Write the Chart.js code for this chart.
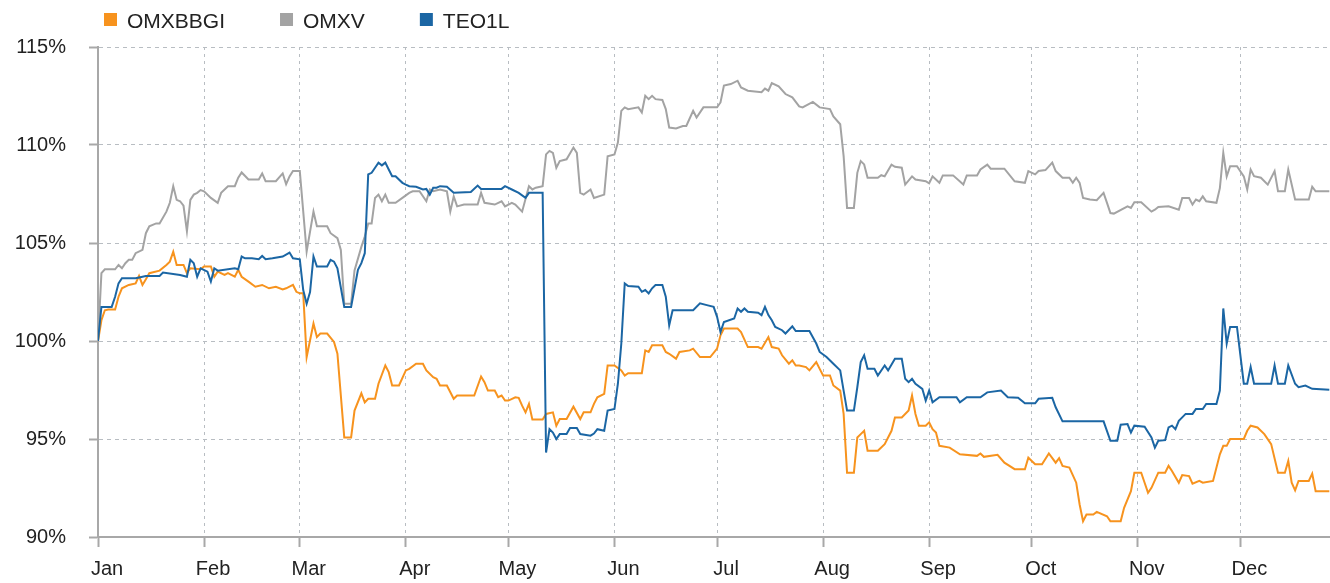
<!DOCTYPE html>
<html>
<head>
<meta charset="utf-8">
<title>OMXBBGI, OMXV, TEO1L</title>
<script src="https://cdn.jsdelivr.net/npm/chart.js@4.4.1/dist/chart.umd.min.js"></script>
<style>
  html, body { margin: 0; padding: 0; background: #fff; }
  #wrap { width: 1330px; height: 583px; position: relative; }
</style>
</head>
<body>
<div id="wrap"><canvas id="indexChart"></canvas></div>
<script>
// x values are days of the year (0 = 1 Jan), y values are % of the start level
const monthLabels = ['Jan', 'Feb', 'Mar', 'Apr', 'May', 'Jun', 'Jul', 'Aug', 'Sep', 'Oct', 'Nov', 'Dec'];
const monthStarts = [0, 31, 59, 90, 120, 151, 181, 212, 243, 273, 304, 334];
const percentTicks = [90, 95, 100, 105, 110, 115];

const omxbbgi = [
  [0,100],[1,101.06],[2,101.57],[3,101.61],[5,101.61],[6,102.26],[7,102.69],[9,102.86],[11,102.94],[12,103.32],
  [13,102.86],[14,103.15],[15,103.46],[18,103.59],[20,103.88],[21,104.05],[22,104.56],[23,103.88],[25,103.88],[26,103.46],
  [27,103.71],[30,103.66],[31,103.8],[33,103.8],[34,103.28],[35,103.54],[37,103.37],[38,103.46],[40,103.28],[41,103.63],
  [42,103.28],[44,103.03],[46,102.77],[48,102.86],[50,102.69],[52,102.77],[54,102.63],[55,102.69],[57,102.86],[58,102.51],
  [59,102.43],[60,102.43],[61,99.18],[62,100.04],[63,100.89],[64,100.2],[65,100.38],[67,100.38],[69,99.95],[70,99.35],
  [72,95.08],[74,95.08],[75,96.45],[77,97.33],[78,96.87],[79,97.05],[81,97.05],[82,97.82],[84,98.75],[85,98.41],
  [86,97.73],[88,97.73],[90,98.5],[91,98.58],[93,98.84],[95,98.84],[96,98.5],[98,98.15],[99,98.07],[100,97.73],
  [102,97.73],[104,97.05],[105,97.22],[110,97.22],[112,98.19],[113,97.9],[114,97.47],[116,97.47],[117,97.13],[118,97.22],
  [119,96.96],[120,96.96],[122,97.13],[123,97.1],[124,96.7],[125,96.36],[126,96.79],[127,95.99],[130,95.99],[131,96.28],
  [133,96.36],[134,95.68],[135,96.02],[137,96.02],[139,96.65],[141,96.02],[142,96.36],[144,96.36],[145,96.79],[146,97.13],
  [148,97.3],[149,98.75],[151,98.75],[153,98.5],[154,98.24],[155,98.36],[159,98.36],[160,99.52],[161,99.44],[162,99.78],
  [165,99.78],[166,99.44],[167,99.35],[169,99.1],[170,99.44],[173,99.52],[174,99.61],[176,99.18],[179,99.18],[181,99.61],
  [182,100.29],[183,100.64],[187,100.64],[188,100.46],[190,99.69],[193,99.69],[194,99.61],[196,100.2],[197,99.69],[199,99.61],
  [200,99.27],[202,98.84],[203,99.01],[204,98.75],[205,98.75],[207,98.67],[208,98.5],[210,98.92],[211,98.58],[212,98.24],
  [214,98.24],[215,97.73],[217,97.47],[218,96.28],[219,93.28],[221,93.28],[222,95.08],[223,95.25],[224,95.42],[225,94.4],
  [228,94.4],[230,94.74],[232,95.42],[233,96.1],[235,96.1],[237,96.45],[238,97.22],[239,96.28],[240,95.68],[242,95.68],
  [243,95.85],[244,95.5],[245,95.33],[246,94.65],[249,94.56],[252,94.22],[257,94.14],[258,94.26],[259,94.09],[263,94.19],
  [265,93.79],[268,93.46],[271,93.46],[272,94.05],[273,93.88],[274,93.71],[276,93.71],[278,94.26],[280,93.79],[281,94.02],
  [282,93.63],[284,93.54],[286,92.77],[287,91.66],[288,90.8],[289,91.15],[291,91.15],[292,91.28],[295,91.06],[296,90.8],
  [299,90.8],[300,91.49],[302,92.34],[303,93.28],[305,93.28],[306,92.77],[307,92.26],[308,92.51],[310,93.28],[312,93.28],
  [313,93.63],[314,93.37],[316,92.77],[317,93.16],[319,93.11],[320,92.72],[322,92.86],[323,92.77],[326,92.86],[328,94.22],
  [329,94.65],[330,94.65],[331,95.0],[335,95.0],[336,95.42],[337,95.68],[339,95.59],[341,95.25],[343,94.74],[345,93.28],
  [347,93.28],[348,93.88],[349,92.77],[350,92.38],[351,92.86],[354,92.86],[355,93.23],[356,92.34],[360,92.34]
];

const omxv = [
  [0,100],[1,103.46],[2,103.66],[5,103.66],[6,103.88],[7,103.71],[8,103.97],[9,104.14],[10,104.14],[11,104.48],
  [13,104.65],[14,105.5],[15,105.85],[17,106.0],[18,106.0],[20,106.6],[21,107.05],[22,107.9],[23,107.2],[24,107.13],
  [25,106.9],[26,105.6],[27,107.2],[28,107.47],[29,107.56],[30,107.7],[31,107.64],[33,107.3],[35,107.05],[36,107.56],
  [38,107.9],[40,107.9],[41,108.33],[42,108.6],[44,108.24],[47,108.24],[48,108.55],[49,108.15],[52,108.15],[54,108.55],
  [55,108.0],[56,108.4],[57,108.67],[59,108.67],[61,104.56],[63,106.6],[64,105.85],[67,105.85],[68,105.5],[70,105.25],
  [71,104.65],[72,101.9],[74,101.9],[75,103.6],[77,104.8],[78,105.33],[79,106.0],[80,106.0],[81,107.3],[82,107.47],
  [83,107.13],[84,107.47],[85,107.05],[87,107.05],[89,107.3],[91,107.56],[92,107.64],[94,107.64],[96,107.13],[97,107.73],
  [98,107.64],[100,107.73],[102,107.64],[103,106.6],[104,107.38],[105,106.87],[107,106.96],[111,106.96],[112,107.56],[113,107.05],
  [116,106.96],[118,107.13],[119,106.87],[121,107.05],[122,106.96],[124,106.6],[126,107.9],[127,107.73],[128,107.82],[130,107.9],
  [131,109.52],[132,109.7],[133,109.6],[134,108.84],[135,109.18],[137,109.27],[139,109.87],[140,109.6],[141,107.56],[142,107.47],
  [144,107.73],[145,107.3],[148,107.47],[149,109.43],[151,109.52],[152,110.12],[153,111.74],[154,111.92],[155,111.83],[158,111.92],
  [159,111.66],[160,112.51],[161,112.34],[162,112.51],[163,112.34],[165,112.3],[166,111.83],[167,110.89],[169,110.84],[171,110.97],
  [172,110.97],[174,111.74],[175,111.4],[177,111.92],[181,111.92],[182,112.17],[183,113.03],[185,113.11],[187,113.28],[188,112.94],
  [190,112.77],[194,112.69],[195,112.88],[196,112.77],[197,113.16],[199,112.99],[201,112.6],[203,112.43],[205,111.97],[206,111.92],
  [209,112.2],[211,111.92],[214,111.83],[215,111.46],[217,111.06],[218,109.43],[219,106.79],[221,106.79],[222,108.58],[223,109.18],
  [224,109.01],[225,108.33],[228,108.33],[229,108.46],[230,108.4],[232,109.0],[233,108.89],[235,108.84],[236,107.98],[238,108.4],
  [239,108.24],[242,108.15],[243,108.04],[244,108.4],[246,108.07],[247,108.45],[250,108.45],[253,107.98],[254,108.45],[257,108.45],
  [258,108.75],[260,109.0],[261,108.79],[265,108.79],[268,108.15],[271,108.07],[272,108.67],[274,108.5],[275,108.67],[277,108.72],
  [279,109.1],[280,108.67],[282,108.33],[284,108.33],[285,108.07],[286,108.33],[287,108.07],[288,107.3],[290,107.22],[292,107.18],
  [294,107.56],[295,107.05],[296,106.53],[297,106.5],[301,106.87],[302,106.79],[303,107.08],[305,107.08],[308,106.6],[309,106.7],
  [310,106.84],[313,106.87],[316,106.7],[317,107.3],[319,107.3],[320,106.96],[321,107.22],[322,107.13],[323,107.38],[324,107.13],
  [327,107.05],[328,107.8],[329,109.6],[330,108.4],[331,108.92],[333,108.92],[335,108.4],[336,107.73],[337,108.75],[338,108.41],
  [340,108.33],[342,107.98],[344,108.67],[345,107.64],[347,107.64],[348,108.75],[350,107.22],[354,107.22],[355,107.87],[356,107.64],
  [360,107.64]
];

const teo1l = [
  [0,100],[1,101.74],[4,101.74],[5,102.26],[6,102.94],[7,103.2],[11,103.2],[14,103.32],[18,103.32],[19,103.49],
  [24,103.37],[26,103.28],[27,104.14],[28,103.97],[29,103.28],[30,103.71],[32,103.54],[33,103.03],[34,103.71],[35,103.59],
  [40,103.71],[41,103.66],[42,104.31],[43,104.22],[45,104.22],[47,104.17],[48,104.34],[49,104.17],[51,104.22],[54,104.31],
  [56,104.51],[57,104.22],[59,104.17],[60,102.6],[61,101.9],[62,102.5],[63,104.31],[64,103.8],[67,103.8],[68,104.14],
  [69,104.05],[70,103.71],[72,101.74],[74,101.74],[76,103.63],[77,103.97],[78,104.48],[79,108.5],[80,108.58],[81,108.84],
  [82,109.1],[83,108.96],[84,109.1],[85,108.75],[86,108.41],[87,108.41],[89,108.07],[90,107.98],[91,107.9],[93,107.87],
  [95,107.73],[96,107.76],[97,107.47],[98,107.82],[99,107.82],[100,107.9],[102,107.87],[104,107.56],[109,107.6],[111,107.93],
  [112,107.76],[118,107.76],[119,107.9],[121,107.73],[123,107.56],[125,107.3],[126,107.56],[130,107.56],[131,94.31],[132,95.5],
  [133,95.33],[134,95.0],[135,95.25],[137,95.25],[138,95.56],[140,95.56],[141,95.25],[144,95.17],[145,95.28],[146,95.5],
  [148,95.42],[149,96.45],[151,96.53],[152,97.82],[153,99.87],[154,102.94],[155,102.8],[158,102.77],[159,102.51],[160,102.6],
  [161,102.43],[162,102.69],[163,102.86],[165,102.86],[166,102.26],[167,100.8],[168,101.57],[174,101.57],[176,101.92],[178,101.83],
  [180,101.74],[181,101.23],[182,100.46],[183,100.97],[186,101.15],[187,101.66],[188,101.49],[189,101.66],[190,101.49],[193,101.44],
  [194,101.32],[195,101.74],[196,101.32],[197,101.06],[198,100.72],[200,100.55],[201,100.38],[203,100.75],[204,100.51],[208,100.51],
  [210,99.87],[211,99.44],[213,99.18],[215,98.84],[217,98.5],[218,97.47],[219,96.45],[221,96.45],[222,97.64],[223,98.92],
  [224,99.27],[225,98.58],[227,98.58],[228,98.24],[230,98.75],[231,98.5],[233,99.1],[235,99.1],[236,98.07],[237,97.9],
  [238,98.07],[239,97.82],[241,97.56],[242,96.96],[243,97.47],[244,96.87],[246,97.13],[251,97.13],[252,96.87],[254,97.13],
  [258,97.13],[260,97.38],[264,97.47],[266,97.13],[269,97.1],[271,96.82],[274,96.82],[275,97.05],[279,97.1],[280,96.62],
  [282,95.9],[294,95.9],[296,94.91],[298,94.91],[299,95.73],[301,95.76],[302,95.33],[303,95.68],[306,95.63],[308,95.08],
  [309,94.56],[310,94.91],[312,94.94],[313,95.59],[314,95.68],[315,95.5],[316,95.93],[318,96.28],[320,96.28],[321,96.53],
  [323,96.53],[324,96.79],[327,96.79],[328,97.47],[329,101.66],[330,99.87],[331,100.72],[333,100.72],[335,97.82],[336,97.82],
  [337,98.67],[338,97.82],[343,97.82],[344,98.75],[345,97.82],[347,97.82],[348,98.75],[350,97.82],[351,97.64],[353,97.73],
  [355,97.56],[360,97.51]
];

const labelFont = { family: '"Liberation Sans", Arial, sans-serif', size: 20 };
const textColor = '#222';
const axisGray = '#a8a8a8';
const gridGray = '#b8bdc2';

// legend row drawn above the plot: colour square + name
const topLegend = {
  id: 'topLegend',
  afterDraw(chart) {
    const ctx = chart.ctx;
    ctx.save();
    ctx.font = '21px "Liberation Sans", Arial, sans-serif';
    ctx.textBaseline = 'alphabetic';
    let x = 104;
    chart.data.datasets.forEach(ds => {
      ctx.fillStyle = ds.borderColor;
      ctx.fillRect(x, 13, 13, 13);
      ctx.fillStyle = textColor;
      ctx.fillText(ds.label, x + 23, 28);
      x += 23 + ctx.measureText(ds.label).width + 55;
    });
    ctx.restore();
  }
};

function toPoints(rows) {
  return rows.map(r => ({ x: r[0], y: r[1] }));
}

function lineSet(label, rows, color, order) {
  return {
    label: label,
    data: toPoints(rows),
    borderColor: color,
    backgroundColor: color,
    borderWidth: 2,
    pointRadius: 0,
    tension: 0,
    order: order
  };
}

new Chart(document.getElementById('indexChart'), {
  type: 'line',
  data: {
    datasets: [
      lineSet('OMXBBGI', omxbbgi, '#f7931e', 2),
      lineSet('OMXV', omxv, '#a3a3a3', 3),
      lineSet('TEO1L', teo1l, '#1b66a4', 1)
    ]
  },
  options: {
    responsive: true,
    maintainAspectRatio: false,
    animation: false,
    layout: { padding: { top: 47, left: 0, right: 0, bottom: 0 } },
    plugins: {
      legend: { display: false },
      tooltip: { enabled: false }
    },
    scales: {
      x: {
        type: 'linear',
        min: 0,
        max: 360.2,
        afterBuildTicks: axis => { axis.ticks = monthStarts.map(v => ({ value: v })); },
        afterFit: axis => { axis.height = 46; },
        grid: { color: gridGray, lineWidth: 1, tickLength: 10, tickColor: axisGray, tickWidth: 2 },
        border: { color: axisGray, width: 2, dash: [3, 4] },
        ticks: {
          autoSkip: false,
          maxRotation: 0,
          labelOffset: 9,
          padding: 10,
          color: textColor,
          font: labelFont,
          callback: (value, index) => monthLabels[index]
        }
      },
      y: {
        min: percentTicks[0],
        max: percentTicks[percentTicks.length - 1],
        afterBuildTicks: axis => { axis.ticks = percentTicks.map(v => ({ value: v })); },
        afterFit: axis => { axis.width = 98; },
        grid: { color: gridGray, lineWidth: 1, tickLength: 9, tickColor: axisGray, tickWidth: 2 },
        border: { color: axisGray, width: 2, dash: [4, 4] },
        ticks: {
          padding: 23,
          color: textColor,
          font: labelFont,
          callback: value => value + '%'
        }
      }
    }
  },
  plugins: [topLegend]
});
</script>
</body>
</html>
